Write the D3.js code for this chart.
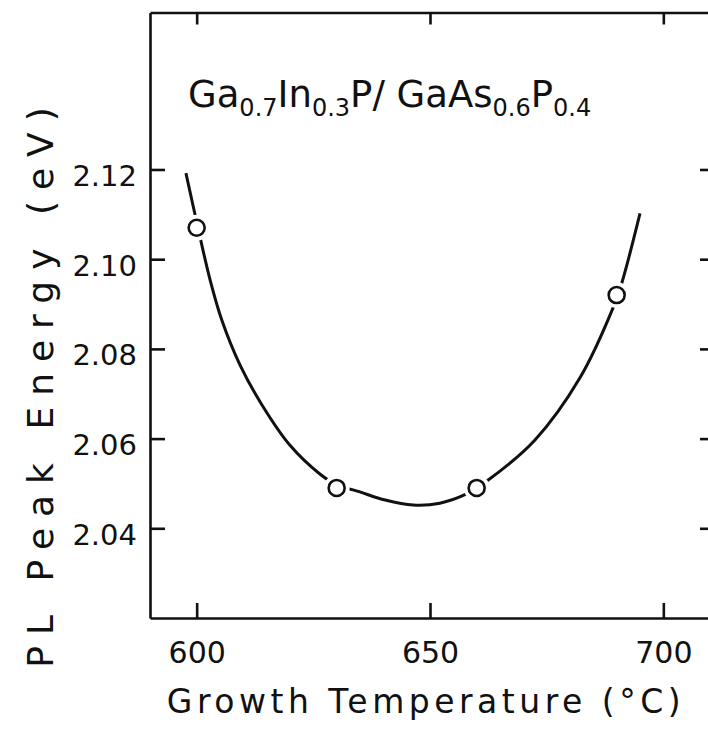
<!DOCTYPE html>
<html>
<head>
<meta charset="utf-8">
<script src="https://cdn.jsdelivr.net/npm/d3@7"></script>
<style>
  body { margin: 0; background: #fff; }
  text { font-family: "DejaVu Sans", sans-serif; fill: #111; }
</style>
</head>
<body>
<div class="chart"></div>
<script>
// Measured points
const temps = [600, 630, 660, 690];
const energies = [2.107, 2.049, 2.049, 2.092];

// Fitted curve
const curveTemps = [597.7, 600.3, 602.9, 605.4, 609.3, 614.0, 620.0, 626.4, 630.1, 634.4,
  640.4, 646.4, 652.1, 657.7, 662.4, 672.5, 682.1, 689.2, 691.1, 695.0];
const curveEnergies = [2.1192, 2.1069, 2.0953, 2.0864, 2.0764, 2.0675, 2.0585, 2.0521, 2.0496, 2.0483,
  2.0463, 2.0452, 2.0456, 2.0476, 2.0507, 2.0597, 2.0735, 2.0891, 2.0947, 2.1102];

// Tick values
const xTicks = [600, 650, 700];
const yTicks = [2.04, 2.06, 2.08, 2.10, 2.12];

const width = 708, height = 736;
const plotLeft = 150, plotRight = 710, plotTop = 12.5, plotBottom = 618;

const svg = d3.select(".chart")
  .append("svg")
  .attr("width", width)
  .attr("height", height);

const x = d3.scaleLinear().domain([590, 710]).range([plotLeft, plotRight]);
const y = d3.scaleLinear().domain([2.02, 2.155]).range([plotBottom, plotTop]);

// Axes on all four sides, ticks pointing inwards
svg.append("g")
  .attr("transform", `translate(0,${plotBottom})`)
  .call(d3.axisBottom(x).tickValues(xTicks).tickSizeInner(-15).tickSizeOuter(0).tickFormat(d3.format("d")))
  .call(g => g.selectAll("text").attr("y", 24).style("font-size", "30px"));

svg.append("g")
  .attr("transform", `translate(0,${plotTop})`)
  .call(d3.axisTop(x).tickValues(xTicks).tickSizeInner(-12).tickSizeOuter(0).tickFormat(""));

svg.append("g")
  .attr("transform", `translate(${plotLeft},0)`)
  .call(d3.axisLeft(y).tickValues(yTicks).tickSizeInner(-15).tickSizeOuter(0).tickFormat(d3.format(".2f")))
  .call(g => g.selectAll("text").attr("x", -13).attr("dy", "0.55em").style("font-size", "29px"));

svg.append("g")
  .attr("transform", `translate(${plotRight},0)`)
  .call(d3.axisRight(y).tickValues(yTicks).tickSizeInner(-10).tickSizeOuter(0).tickFormat(""));

svg.selectAll(".domain, .tick line")
  .attr("stroke", "#111")
  .attr("stroke-width", 2.6);
svg.selectAll(".tick text").attr("fill", "#111").attr("font-family", "DejaVu Sans, sans-serif");

// Fitted curve
const line = d3.line()
  .x((d, i) => x(curveTemps[i]))
  .y(d => y(d))
  .curve(d3.curveCatmullRom.alpha(0.5));

svg.append("path")
  .attr("d", line(curveEnergies))
  .attr("fill", "none")
  .attr("stroke", "#111")
  .attr("stroke-width", 3);

// Open circles with a white gap around them
const pts = svg.selectAll(".pt")
  .data(energies)
  .enter()
  .append("g")
  .attr("class", "pt")
  .attr("transform", (d, i) => `translate(${x(temps[i])},${y(d)})`);
pts.append("circle").attr("r", 13).attr("fill", "#fff");
pts.append("circle").attr("r", 8).attr("fill", "#fff").attr("stroke", "#111").attr("stroke-width", 2.6);

// Label inside the plot
const title = svg.append("text")
  .attr("x", 188)
  .attr("y", 107)
  .style("font-size", "37px");
const parts = [["Ga", 0], ["0.7", 1], ["In", 0], ["0.3", 1], ["P/ GaAs", 0], ["0.6", 1], ["P", 0], ["0.4", 1]];
let prev = 0;
parts.forEach(p => {
  title.append("tspan")
    .attr("dy", p[1] === prev ? 0 : (p[1] ? 9 : -9))
    .style("font-size", p[1] ? "24px" : "37px")
    .text(p[0]);
  prev = p[1];
});

// Axis titles
svg.append("text")
  .attr("x", 426)
  .attr("y", 713)
  .attr("text-anchor", "middle")
  .style("font-size", "33px")
  .style("letter-spacing", "4.5px")
  .text("Growth  Temperature (°C)");

svg.append("text")
  .attr("transform", "translate(53,382) rotate(-90)")
  .attr("text-anchor", "middle")
  .style("font-size", "36px")
  .style("letter-spacing", "11px")
  .text("PL  Peak  Energy  (eV)");
</script>
</body>
</html>
